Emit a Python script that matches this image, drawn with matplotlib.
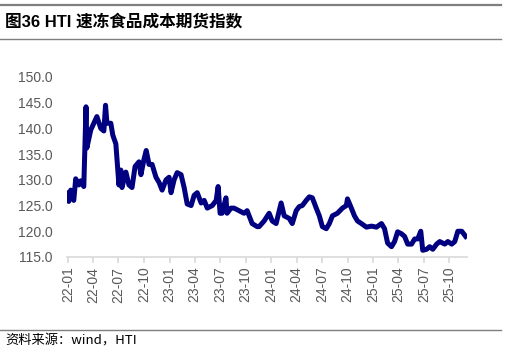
import matplotlib.pyplot as plt
import matplotlib.dates as mdates
from matplotlib.lines import Line2D
import pandas as pd

plt.rcParams['font.family'] = ['Liberation Sans', 'Noto Sans CJK SC', 'DejaVu Sans']

title = "图36 HTI 速冻食品成本期货指数"
source = "资料来源：wind，HTI"

dates = [
    "2022-01-01", "2022-01-04", "2022-01-11", "2022-01-22", "2022-01-29", "2022-02-09",
    "2022-02-16", "2022-02-27", "2022-03-07", "2022-03-10", "2022-03-24", "2022-04-04",
    "2022-04-15", "2022-04-29", "2022-05-10", "2022-05-16", "2022-05-21", "2022-06-04",
    "2022-06-11", "2022-06-22", "2022-07-03", "2022-07-10", "2022-07-14", "2022-07-28",
    "2022-08-08", "2022-08-19", "2022-08-30", "2022-09-13", "2022-09-20", "2022-10-01",
    "2022-10-09", "2022-10-19", "2022-10-30", "2022-11-13", "2022-11-24", "2022-12-05",
    "2022-12-19", "2022-12-30", "2023-01-06", "2023-01-17", "2023-01-28", "2023-02-11",
    "2023-02-22", "2023-03-05", "2023-03-19", "2023-03-30", "2023-04-10", "2023-04-24",
    "2023-05-05", "2023-05-16", "2023-06-03", "2023-06-17", "2023-06-24", "2023-07-01",
    "2023-07-08", "2023-07-22", "2023-07-26", "2023-08-09", "2023-08-20", "2023-09-07",
    "2023-09-25", "2023-10-06", "2023-10-24", "2023-11-11", "2023-11-18", "2023-12-06",
    "2023-12-24", "2024-01-04", "2024-01-18", "2024-02-05", "2024-02-16", "2024-03-05",
    "2024-03-16", "2024-03-30", "2024-04-10", "2024-04-21", "2024-05-05", "2024-05-16",
    "2024-05-27", "2024-06-10", "2024-06-21", "2024-07-02", "2024-07-16", "2024-07-27",
    "2024-08-07", "2024-08-25", "2024-09-12", "2024-09-26", "2024-09-30", "2024-10-14",
    "2024-10-25", "2024-11-05", "2024-11-19", "2024-12-07", "2024-12-25", "2025-01-12",
    "2025-01-30", "2025-02-10", "2025-02-21", "2025-03-07", "2025-03-18", "2025-03-29",
    "2025-04-12", "2025-04-23", "2025-05-04", "2025-05-18", "2025-05-29", "2025-06-09",
    "2025-06-20", "2025-06-27", "2025-07-11", "2025-07-22", "2025-08-02", "2025-08-16",
    "2025-08-27", "2025-09-14", "2025-09-25", "2025-10-09", "2025-10-20", "2025-10-31",
    "2025-11-14", "2025-11-28",
]
values = [
    127.5, 125.8, 128.0, 126.0, 130.2, 129.0,
    129.8, 128.7, 144.2, 136.2, 139.7, 141.0,
    142.3, 140.0, 139.5, 144.5, 141.0, 141.0,
    138.7, 137.0, 129.0, 131.9, 128.5, 131.5,
    129.0, 128.5, 132.6, 133.5, 131.0, 134.0,
    135.7, 133.0, 133.0, 130.5, 129.5, 128.0,
    130.0, 130.5, 127.5, 130.0, 131.4, 131.0,
    128.5, 125.3, 125.0, 127.0, 127.5, 125.5,
    126.0, 124.5, 125.0, 126.0, 128.7, 123.5,
    123.5, 126.5, 123.5, 124.5, 124.5, 124.0,
    123.5, 124.0, 121.5, 120.9, 120.9, 122.0,
    123.5, 122.0, 121.5, 125.5, 123.0, 122.5,
    121.5, 124.0, 124.8, 125.0, 126.0, 126.7,
    126.5, 124.5, 123.0, 120.9, 120.5, 121.5,
    123.0, 123.5, 124.5, 125.0, 126.3, 124.5,
    123.0, 122.0, 121.5, 120.8, 121.0, 120.8,
    121.5, 120.5, 117.7, 117.0, 118.0, 119.9,
    119.5, 119.0, 117.5, 117.5, 118.5, 118.5,
    120.0, 116.3, 116.5, 117.0, 116.5, 117.5,
    118.0, 117.5, 118.0, 117.5, 118.0, 120.0,
    120.0, 119.0,
]

x = pd.to_datetime(dates)

fig = plt.figure(figsize=(5.06, 3.53), dpi=100)
ax = fig.add_axes([0.132, 0.272, 0.791, 0.51])

ax.plot(x, values, color='#000080', lw=3.6, solid_joinstyle='round')

ax.set_ylim(115, 150)
ax.set_yticks(range(115, 151, 5))
ax.yaxis.set_major_formatter(plt.FormatStrFormatter('%.1f'))
ax.set_xlim(pd.Timestamp("2021-12-28"), pd.Timestamp("2025-12-03"))
ax.xaxis.set_major_locator(mdates.MonthLocator(bymonth=[1, 4, 7, 10]))
ax.xaxis.set_major_formatter(mdates.DateFormatter('%y-%m'))

for s in ['top', 'right', 'left']:
    ax.spines[s].set_visible(False)
ax.spines['bottom'].set_color('#d9d9d9')
ax.spines['bottom'].set_linewidth(1.2)
ax.tick_params(axis='y', length=0, labelsize=10, labelcolor='#595959', pad=10)
ax.tick_params(axis='x', length=4, color='#d9d9d9', width=1.2, labelsize=10,
               labelcolor='#595959', labelrotation=90, pad=3)

fig.add_artist(Line2D([0.0, 0.99], [0.987, 0.987], color='#7f7f7f', lw=1.6))
fig.add_artist(Line2D([0.0, 0.99], [0.889, 0.889], color='#7f7f7f', lw=1.0))
fig.add_artist(Line2D([0.0, 0.99], [0.065, 0.065], color='#7f7f7f', lw=1.0))

fig.text(0.01, 0.94, title, fontsize=12, fontweight='bold', va='center', ha='left',
         family=['Liberation Sans', 'Noto Sans CJK SC'])
fig.text(0.01, 0.033, source, fontsize=9.5, va='center', ha='left',
         family=['Noto Sans CJK SC', 'Liberation Sans'])

fig.savefig('out.png', dpi=100)
